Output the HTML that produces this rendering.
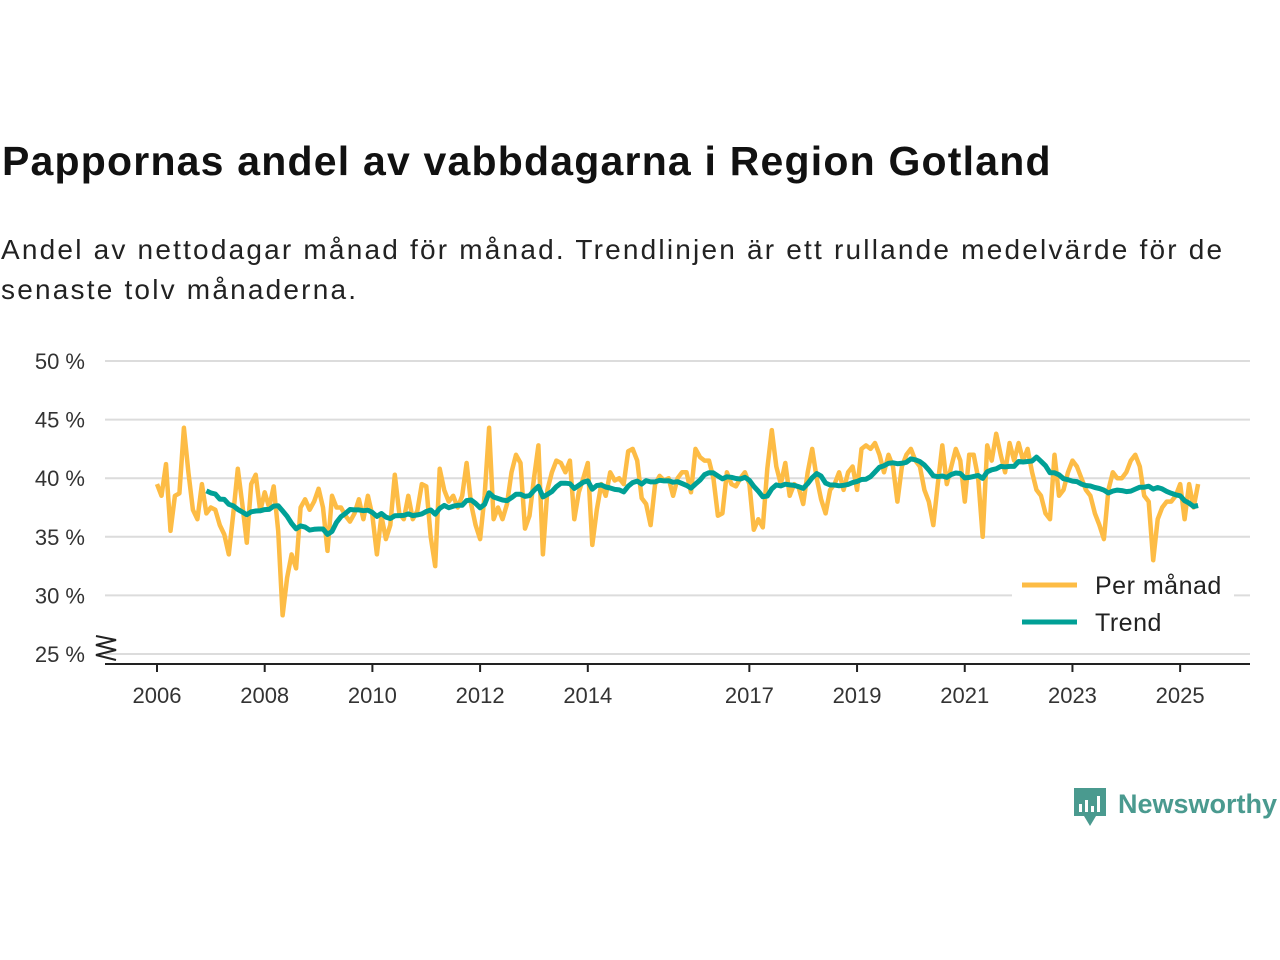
<!DOCTYPE html>
<html><head><meta charset="utf-8"><style>
body{margin:0;background:#fff;width:1280px;height:960px;overflow:hidden;font-family:"Liberation Sans",sans-serif;color:#111}
#title{position:absolute;left:2px;top:138px;font-size:41px;font-weight:bold;margin:0;letter-spacing:1.2px}
#sub{position:absolute;left:1px;top:230px;font-size:28px;line-height:40px;width:1240px;color:#222;letter-spacing:2.2px}
svg{position:absolute;left:0;top:0}
</style></head><body>
<h1 id="title">Pappornas andel av vabbdagarna i Region Gotland</h1>
<div id="sub">Andel av nettodagar månad för månad. Trendlinjen är ett rullande medelvärde för de senaste tolv månaderna.</div>
<svg id="chart" width="1280" height="960"></svg>
<script>
const yTicks=[25,30,35,40,45,50];
const yTickLabels=["25 %","30 %","35 %","40 %","45 %","50 %"];
const xTicks=[2006,2008,2010,2012,2014,2017,2019,2021,2023,2025];
const startYear=2006;
const monthly=[
39.5,38.5,41.2,35.5,38.5,38.7,44.3,40.5,37.3,36.5,39.5,37.0,
37.5,37.3,36.0,35.2,33.5,37.0,40.8,37.8,34.5,39.5,40.3,37.2,
38.8,37.5,39.3,35.5,28.3,31.5,33.5,32.3,37.5,38.2,37.3,38.0,
39.1,37.5,33.8,38.5,37.5,37.5,36.8,36.3,37.0,38.2,36.5,38.5,
36.8,33.5,36.8,34.8,36.0,40.3,37.0,36.5,38.5,36.5,37.2,39.5,
39.3,35.0,32.5,40.8,39.0,38.0,38.5,37.5,38.5,41.3,37.8,36.0,
34.8,38.5,44.3,36.5,37.5,36.5,37.8,40.5,42.0,41.3,35.7,36.8,
40.0,42.8,33.5,39.0,40.5,41.5,41.3,40.5,41.5,36.5,38.8,40.0,
41.3,34.3,37.3,39.5,38.5,40.5,39.8,40.0,39.5,42.3,42.5,41.5,
38.3,37.8,36.0,39.5,40.2,39.8,40.0,38.5,40.0,40.5,40.5,38.8,
42.5,41.8,41.5,41.5,40.0,36.8,37.0,40.5,39.5,39.3,40.0,40.5,
39.5,35.6,36.5,35.8,40.8,44.1,41.0,39.5,41.3,38.5,39.5,39.2,
37.8,40.5,42.5,40.0,38.2,37.0,39.0,39.5,40.5,39.0,40.5,41.0,
39.0,42.5,42.8,42.5,43.0,42.0,40.5,42.0,41.0,38.0,41.0,42.0,
42.5,41.5,41.0,39.0,38.0,36.0,39.5,42.8,39.5,41.0,42.5,41.5,
38.0,42.0,42.0,40.0,35.0,42.8,41.5,43.8,42.0,40.5,43.0,41.5,
43.0,41.5,42.5,40.5,39.0,38.5,37.0,36.5,42.0,38.5,39.0,40.5,
41.5,41.0,40.0,39.0,38.5,37.0,36.0,34.8,39.0,40.5,40.0,40.0,
40.5,41.5,42.0,41.0,38.5,38.0,33.0,36.5,37.5,38.0,38.0,38.5,
39.5,36.5,39.5,37.5,39.5];
const NS="http://www.w3.org/2000/svg";
const svg=document.getElementById('chart');
const x0=105,x1=1250;
function xScale(t){return 157+(t-startYear)*53.85;}
function yScale(v){return 654-(v-25)*11.72;}
function mk(tag,attrs){const e=document.createElementNS(NS,tag);for(const k in attrs)e.setAttribute(k,attrs[k]);svg.appendChild(e);return e;}
yTicks.forEach((v,i)=>{
 const g=mk('line',{x1:x0,x2:x1,y1:yScale(v),y2:yScale(v),stroke:'#dcdcdc','stroke-width':2});
 
 
 const t=mk('text',{x:85,y:yScale(v)+8,'text-anchor':'end','font-size':22,fill:'#333'});
 t.textContent=yTickLabels[i];
 
 
});
const ax=mk('line',{x1:x0,x2:x1,y1:664,y2:664,stroke:'#222','stroke-width':2});


const br=mk('path',{d:'M96,636 L116,640 L96,645 L116,650 L96,655 L116,660',fill:'none',stroke:'#222','stroke-width':2});


xTicks.forEach(yr=>{
 const l=mk('line',{x1:xScale(yr),x2:xScale(yr),y1:664,y2:672,stroke:'#222','stroke-width':2});
 
 
 const t=mk('text',{x:xScale(yr),y:703,'text-anchor':'middle','font-size':22,fill:'#333'});
 t.textContent=yr;
 
 
});
const mpts=monthly.map((v,i)=>xScale(startYear+i/12).toFixed(1)+','+yScale(v).toFixed(1)).join(' ');
const ml=mk('polyline',{points:mpts,fill:'none',stroke:'#fdbc45','stroke-width':4.5,'stroke-linejoin':'round'});


const trend=[];
for(let i=11;i<monthly.length;i++){let s=0;for(let j=i-11;j<=i;j++)s+=monthly[j];trend.push([i,s/12]);}
const tpts=trend.map(([i,v])=>xScale(startYear+i/12).toFixed(1)+','+yScale(v).toFixed(1)).join(' ');
const tl=mk('polyline',{points:tpts,fill:'none',stroke:'#00a096','stroke-width':5,'stroke-linejoin':'round'});


const lb=mk('rect',{x:1012,y:565,width:222,height:78,fill:'#fff'});


[['Per månad','#fdbc45',585],['Trend','#00a096',622]].forEach(([n,c,y])=>{
 const l=mk('line',{x1:1022,x2:1077,y1:y,y2:y,stroke:c,'stroke-width':5});
 
 
 const t=mk('text',{x:1095,y:y+9,'font-size':25,fill:'#222','letter-spacing':0.5});
 t.textContent=n;
 
 
});
const ic=mk('path',{d:'M1074,788 h32 v28 h-10 l-6,10 l-6,-10 h-10 z',fill:'#4a9a8f'});


[[1079,804,8],[1085,800,12],[1091,806,6],[1097,796,16]].forEach(([x,y,h])=>{
 const r=mk('rect',{x:x,y:y,width:3,height:h,fill:'#fff'});
 
 
});
const lt=mk('text',{x:1118,y:813,'font-size':27,'font-weight':'bold',fill:'#4a9a8f'});
lt.textContent='Newsworthy';


</script>
</body></html>
